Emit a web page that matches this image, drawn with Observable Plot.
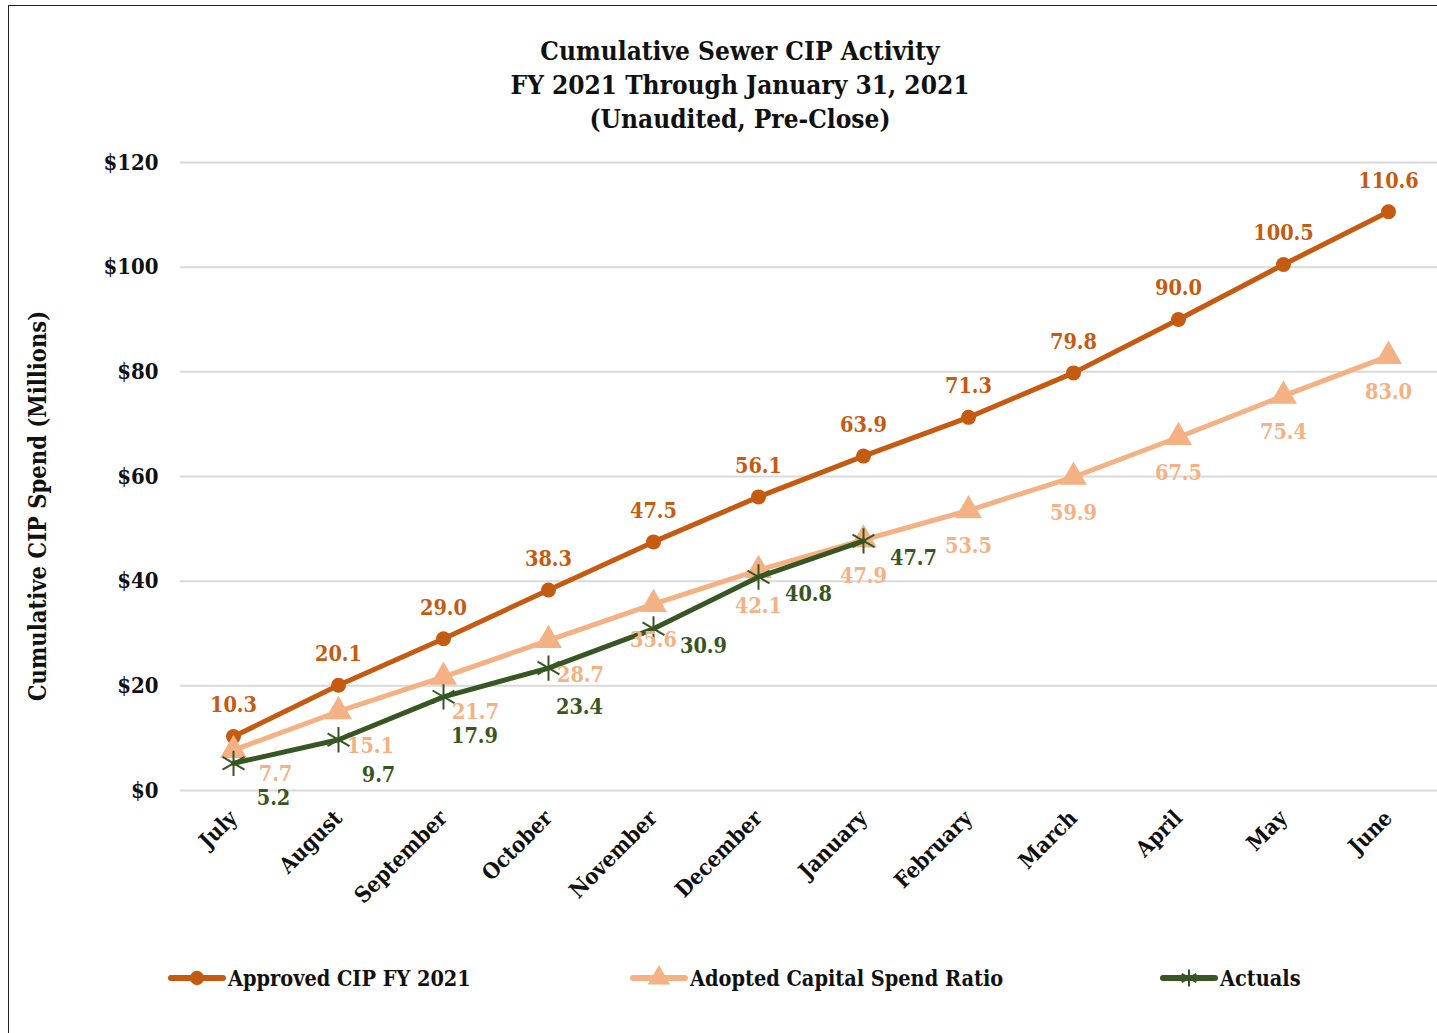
<!DOCTYPE html>
<html>
<head>
<meta charset="utf-8">
<script src="https://cdn.jsdelivr.net/npm/d3@7"></script>
<script src="https://cdn.jsdelivr.net/npm/@observablehq/plot@0.6"></script>
<style>
  html, body { margin: 0; padding: 0; background: #fff; overflow: hidden; }
  body { width: 1437px; height: 1033px; position: relative; font-family: "DejaVu Serif Condensed", "DejaVu Serif", serif; font-weight: bold; }
  #frame { position: absolute; left: 8px; top: 5px; width: 1480px; height: 1060px; border: 1.5px solid #222; box-sizing: border-box; }
  #title { position: absolute; left: 0; top: 34px; width: 1480px; text-align: center; font-size: 26px; line-height: 34px; color: #111; }
  #ylabel { position: absolute; left: 38px; top: 506px; transform: translate(-50%, -50%) rotate(-90deg); white-space: nowrap; font-size: 23.5px; color: #111; }
  #chart { position: absolute; left: 0; top: 140px; }
  #chart svg { max-width: none; }
  .leg { position: absolute; top: 962px; height: 32px; display: flex; align-items: center; font-size: 21.5px; color: #111; white-space: nowrap; }
  .leg svg { margin-right: 2px; }
</style>
</head>
<body>
<div id="frame"></div>
<div id="title">Cumulative Sewer CIP Activity<br>FY 2021 Through January 31, 2021<br>(Unaudited, Pre-Close)</div>
<div id="ylabel">Cumulative CIP Spend (Millions)</div>
<div id="chart"></div>
<div id="legend"></div>
<script>
const months = ["July","August","September","October","November","December","January","February","March","April","May","June"];
const approved = [10.3, 20.1, 29.0, 38.3, 47.5, 56.1, 63.9, 71.3, 79.8, 90.0, 100.5, 110.6];
const adopted = [7.7, 15.1, 21.7, 28.7, 35.6, 42.1, 47.9, 53.5, 59.9, 67.5, 75.4, 83.0];
const actuals = [5.2, 9.7, 17.9, 23.4, 30.9, 40.8, 47.7];
const yTicks = [0, 20, 40, 60, 80, 100, 120];
const seriesNames = ["Approved CIP FY 2021", "Adopted Capital Spend Ratio", "Actuals"];

const cApproved = "#C55A11", cAdopted = "#F4B183", cActuals = "#375623";

const toRows = arr => arr.map((v, i) => ({month: months[i], value: v, i}));
const dApproved = toRows(approved);
const dAdopted = toRows(adopted);
const dActuals = toRows(actuals);

const fontFamily = '"DejaVu Serif Condensed", "DejaVu Serif", serif';
const fs = 21.5;
const lbl = d => d.value.toFixed(1);

const chart = Plot.plot({
  width: 1460,
  height: 780,
  marginLeft: 180,
  marginRight: 19,
  marginTop: 22,
  marginBottom: 130,
  style: {fontFamily, fontWeight: "bold", fontSize: fs + "px", color: "#111", background: "transparent", overflow: "visible"},
  x: {type: "point", domain: months, padding: 0.5},
  y: {domain: [0, 120]},
  marks: [
    Plot.ruleY(yTicks, {stroke: "#d9d9d9", strokeWidth: 2}),
    Plot.axisY({ticks: yTicks, tickFormat: d => "$" + d, tickSize: 0, tickPadding: 22, label: null, fontSize: 22, fontWeight: "bold"}),
    Plot.axisX({tickRotate: -45, tickSize: 0, tickPadding: 24, label: null, fontSize: 22, fontWeight: "bold"}),
    Plot.line(dApproved, {x: "month", y: "value", stroke: cApproved, strokeWidth: 5}),
    Plot.dot(dApproved, {x: "month", y: "value", fill: cApproved, r: 7.5, symbol: "circle"}),
    Plot.line(dAdopted, {x: "month", y: "value", stroke: cAdopted, strokeWidth: 5}),
    Plot.dot(dAdopted, {x: "month", y: "value", fill: cAdopted, r: 10, symbol: "triangle"}),
    Plot.line(dActuals, {x: "month", y: "value", stroke: cActuals, strokeWidth: 5}),
    Plot.dot(dActuals, {x: "month", y: "value", stroke: cActuals, r: 12, strokeWidth: 2, symbol: "asterisk"}),
    Plot.text(dApproved, {x: "month", y: "value", text: lbl, dy: -31, fill: cApproved, fontSize: fs, fontWeight: "bold"}),
    Plot.text(dAdopted.filter(d => d.i === 0), {x: "month", y: "value", text: lbl, dx: 42, dy: 24, fill: cAdopted, fontSize: fs, fontWeight: "bold"}),
    Plot.text(dAdopted.filter(d => d.i > 0 && d.i < 4), {x: "month", y: "value", text: lbl, dx: 32, dy: 35, fill: cAdopted, fontSize: fs, fontWeight: "bold"}),
    Plot.text(dAdopted.filter(d => d.i >= 4), {x: "month", y: "value", text: lbl, dy: 36, fill: cAdopted, fontSize: fs, fontWeight: "bold"}),
    Plot.text(dActuals.filter(d => d.i < 2), {x: "month", y: "value", text: lbl, dx: 40, dy: 35, fill: cActuals, fontSize: fs, fontWeight: "bold"}),
    Plot.text(dActuals.filter(d => d.i >= 2 && d.i < 4), {x: "month", y: "value", text: lbl, dx: 31, dy: 39, fill: cActuals, fontSize: fs, fontWeight: "bold"}),
    Plot.text(dActuals.filter(d => d.i >= 4), {x: "month", y: "value", text: lbl, dx: 50, dy: 17, fill: cActuals, fontSize: fs, fontWeight: "bold"})
  ]
});
document.getElementById("chart").appendChild(chart);

// Legend
const legend = document.getElementById("legend");
const legendItems = [
  {name: seriesNames[0], color: cApproved, symbol: d3.symbolCircle, size: 160, fill: true, left: 168},
  {name: seriesNames[1], color: cAdopted, symbol: d3.symbolTriangle, size: 220, fill: true, left: 630},
  {name: seriesNames[2], color: cActuals, symbol: d3.symbolAsterisk, size: 200, fill: false, left: 1160}
];
legendItems.forEach(it => {
  const div = document.createElement("div");
  div.className = "leg";
  div.style.left = it.left + "px";
  const svg = d3.create("svg").attr("width", 58).attr("height", 32);
  svg.append("line").attr("x1", 3).attr("x2", 55).attr("y1", 16).attr("y2", 16)
    .attr("stroke", it.color).attr("stroke-width", 6).attr("stroke-linecap", "round");
  svg.append("path").attr("transform", "translate(29,16)")
    .attr("d", d3.symbol(it.symbol, it.size)())
    .attr("fill", it.fill ? it.color : "none")
    .attr("stroke", it.fill ? "none" : it.color).attr("stroke-width", 2);
  div.appendChild(svg.node());
  const span = document.createElement("span");
  span.textContent = it.name;
  div.appendChild(span);
  legend.appendChild(div);
});
</script>
</body>
</html>
